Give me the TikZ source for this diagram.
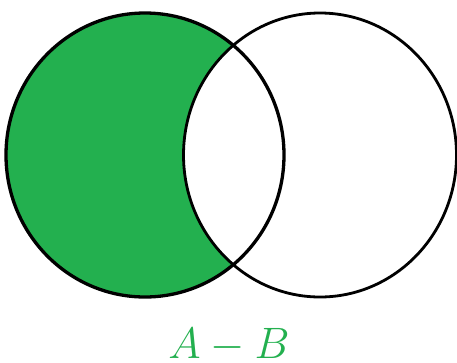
\documentclass[tikz,border=0pt]{standalone}
\usepackage{fix-cm}
\definecolor{vgreen}{RGB}{35,176,79}
\begin{document}
\begin{tikzpicture}[x=1pt,y=-1pt,
  setline/.style={draw=black,line width=2.8pt},
  label/.style={text=vgreen,font=\fontsize{44}{50}\selectfont,anchor=base,inner sep=0pt}]
\useasboundingbox (0,0) rectangle (457,362);
\fill[vgreen] (145,155) ellipse [x radius=139, y radius=142];
\fill[white] (320,155) ellipse [x radius=136.5, y radius=142];
\draw[setline,line width=3.3pt] (145,155) ellipse [x radius=139, y radius=142];
\draw[setline] (320,155) ellipse [x radius=136.5, y radius=142];
\node[label] (lbl) at (229,358) {$A-B$};
\end{tikzpicture}
\end{document}
